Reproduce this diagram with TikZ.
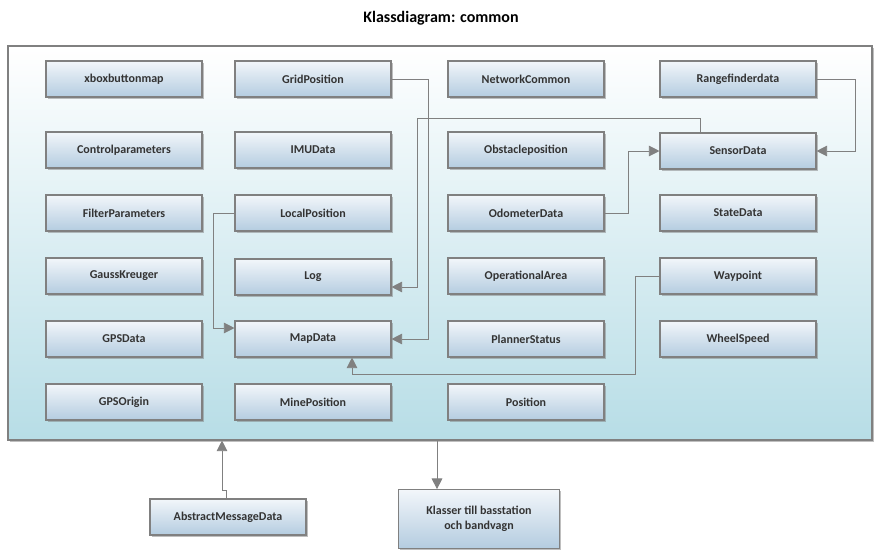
\documentclass[tikz,border=0pt]{standalone}
\usepackage{fontspec}
\setmainfont{Carlito}
\usetikzlibrary{arrows.meta,shadows}
\definecolor{boxtop}{HTML}{F2F6FA}
\definecolor{boxbot}{HTML}{B4CCE0}
\definecolor{line}{HTML}{808080}
\definecolor{frametop}{HTML}{FFFFFF}
\definecolor{framebot}{HTML}{B7DDE6}
\tikzset{
  cls/.style={draw=line, line width=0.8pt, top color=boxtop, bottom color=boxbot, minimum width=117pt, minimum height=27pt, inner sep=1pt, font=\bfseries\small, text=black!80, drop shadow={shadow xshift=1.2pt, shadow yshift=-1.2pt, opacity=0.5}, align=center},
  conn/.style={draw=line, line width=0.7pt, -{Triangle[length=8pt,width=8pt]}},
}
\begin{document}
\begin{tikzpicture}[x=0.75pt,y=-0.75pt]
\useasboundingbox (0,0) rectangle (882,558);
\node[font=\bfseries\large] (title) at (441,18) {Klassdiagram: common};
\node[draw=line, line width=0.8pt, top color=frametop, bottom color=framebot, minimum width=648pt, minimum height=295.5pt, inner sep=0, drop shadow={shadow xshift=1.5pt, shadow yshift=-1.5pt, opacity=0.5}] (frame) at (440,243) {};
\foreach \n/\t/\x/\y in {
 a/xboxbuttonmap/124/79, b/GridPosition/313/79, c/NetworkCommon/526/79, d/Rangefinderdata/738/79,
 e/Controlparameters/124/150, f/IMUData/313/150, g/Obstacleposition/526/150, h/SensorData/738/151,
 i/FilterParameters/124/213, j/LocalPosition/313/213, k/OdometerData/526/213, l/StateData/738/213,
 m/GaussKreuger/124/276, n/Log/313/277, o/OperationalArea/526/276, p/Waypoint/738/276,
 q/GPSData/124/339, r/MapData/313/339, s/PlannerStatus/526/339, t/WheelSpeed/738/339,
 u/GPSOrigin/124/402, v/MinePosition/313/402, w/Position/526/402}
  \node[cls] (\n) at (\x,\y) {\t};
\node[cls] (amd) at (228,517) {AbstractMessageData};
\node[cls, minimum width=121pt, minimum height=44pt] (kl) at (479,519) {Klasser till basstation\\och bandvagn};
\draw[conn] (b.east) -- (428,79) -- (428,339) -- (r.east);
\draw[conn] (h.north -| 700,0) -- (700,118) -- (417,118) -- (417,287) -- (n.east |- 0,287);
\draw[conn] (j.west) -- (213,213) -- (213,328) -- (r.west |- 0,328);
\draw[conn] (k.east) -- (628,213) -- (628,151) -- (h.west);
\draw[conn] (d.east) -- (855,79) -- (855,151) -- (h.east);
\draw[conn] (p.west) -- (635,276) -- (635,374) -- (352,374) -- (r.south -| 352,0);
\draw[conn] (amd.north -| 226,0) -- (226,490) -- (222,490) -- (frame.south -| 222,0);
\draw[conn] (frame.south -| 437,0) -- (kl.north -| 437,0);
\end{tikzpicture}
\end{document}
